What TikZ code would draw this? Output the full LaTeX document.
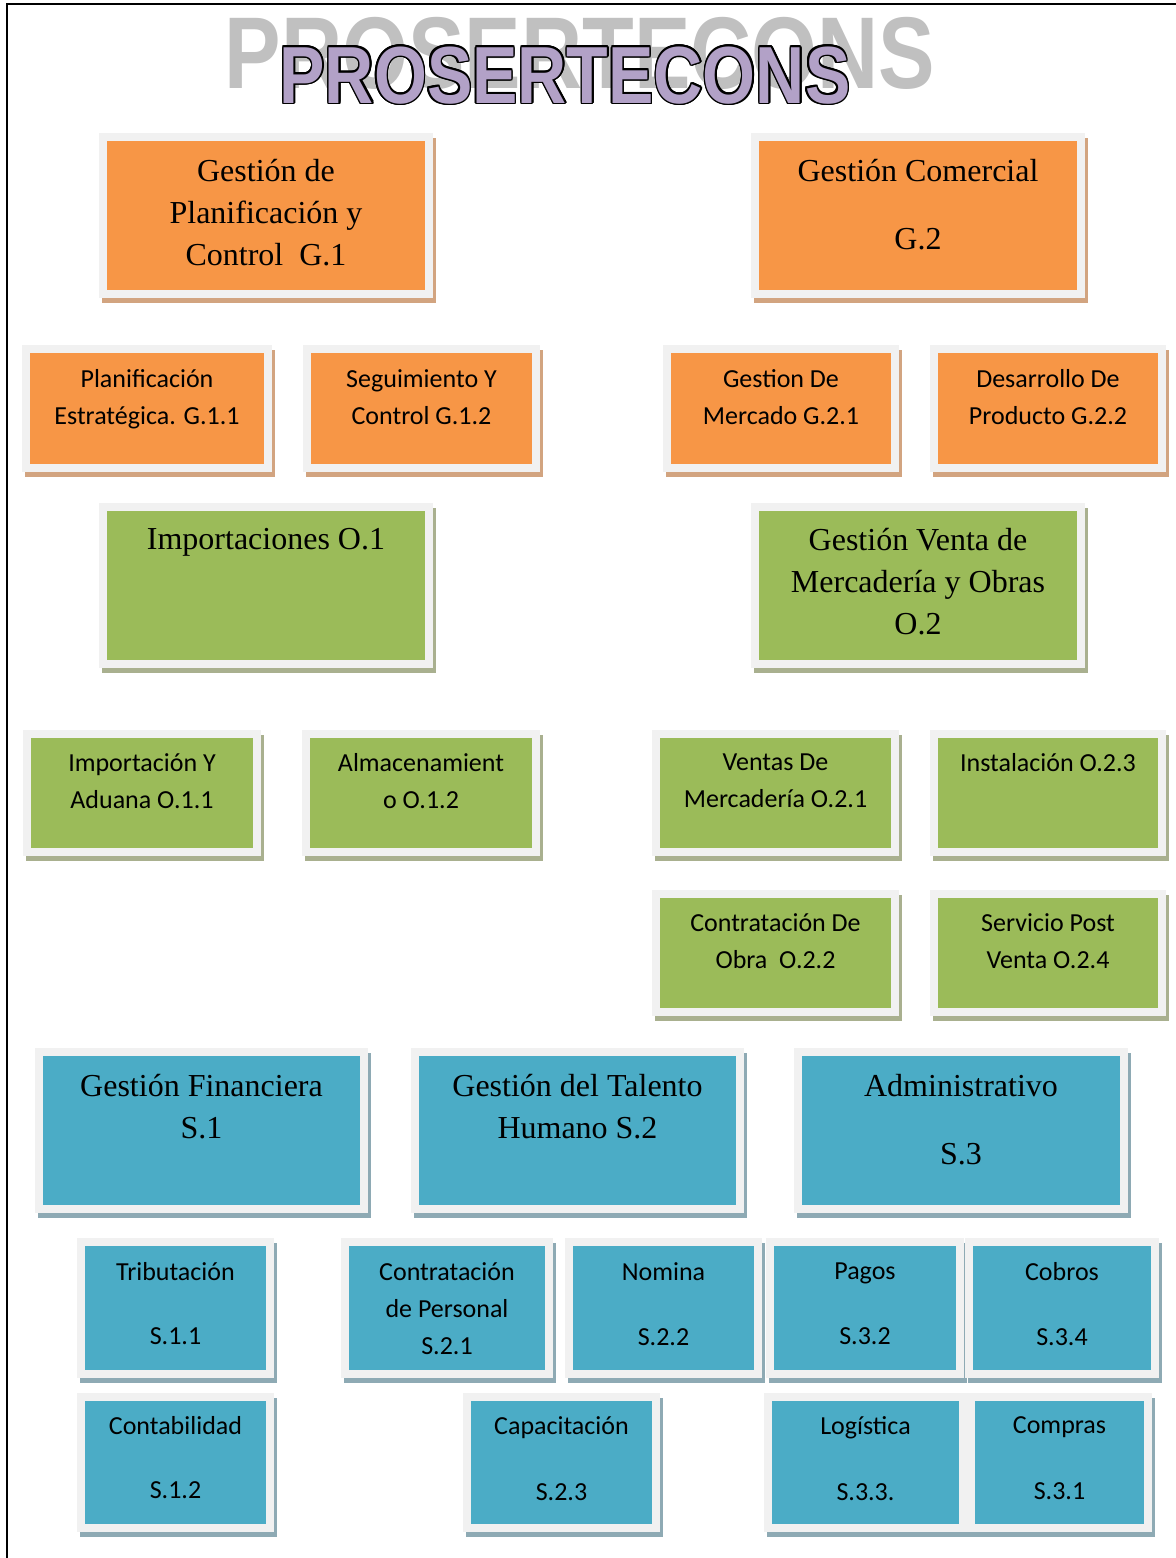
\documentclass[tikz,border=0pt]{standalone}
\usepackage{fontspec}
\setmainfont{Liberation Serif}
\newfontfamily\calibri{Carlito}
\newfontfamily\titlefont{Liberation Sans}
\usepackage[copies]{contour}
\contourlength{0.9pt}
\usetikzlibrary{positioning}
\definecolor{accorange}{HTML}{F79646}
\definecolor{accgreen}{HTML}{9BBB59}
\definecolor{accblue}{HTML}{4BACC6}
\definecolor{framegray}{HTML}{F1F1F1}
\definecolor{shadeorange}{HTML}{D2A480}
\definecolor{shadegreen}{HTML}{A9B08F}
\definecolor{shadeblue}{HTML}{8EAAB4}
\definecolor{titlegray}{HTML}{C0C0C0}
\definecolor{titlepurple}{HTML}{B2A1C7}
\tikzset{
    box/.style={rectangle, draw=framegray, line width=4pt, outer sep=2pt, inner sep=0pt},
    orangebox/.style={box, fill=accorange, preaction={fill=shadeorange, draw=shadeorange, transform canvas={xshift=1.5pt, yshift=-2.5pt}}},
    greenbox/.style={box, fill=accgreen, preaction={fill=shadegreen, draw=shadegreen, transform canvas={xshift=1.5pt, yshift=-2.5pt}}},
    bluebox/.style={box, fill=accblue, preaction={fill=shadeblue, draw=shadeblue, transform canvas={xshift=1.5pt, yshift=-2.5pt}}},
    serif/.style={align=center, inner sep=0pt, font=\fontsize{16}{21}\selectfont},
    sans/.style={align=center, inner sep=0pt, font=\calibri\fontsize{13}{18.5}\selectfont}
}
\begin{document}
\begin{tikzpicture}[x=0.5pt, y=-0.5pt]
    \useasboundingbox (0,0) rectangle (1176,1558);
    \draw[line width=1.2pt] (7,1558) -- (7,4) -- (1176,4);
    % title
    \node[anchor=base, inner sep=0pt, text=titlegray, font=\titlefont\bfseries\fontsize{51}{51}\selectfont] (titleback) at (580,88) {\scalebox{0.83}[1]{PROSERTECONS}};
    \node[anchor=base, inner sep=0pt, font=\titlefont\bfseries\fontsize{40.5}{40.5}\selectfont] (titlefront) at (565,103) {\scalebox{0.84}[1]{\color{titlepurple}\contour{black}{PROSERTECONS}}};
    % gestion
    \node[orangebox, minimum width=163pt, minimum height=78.5pt] (g1) at (266,215.5) {};
    \node[serif, below=13pt of g1.north] (g1text) {Gestión de\\Planificación y\\Control~~G.1};
    \node[orangebox, minimum width=163pt, minimum height=78.5pt] (g2) at (918,215.5) {};
    \node[serif, below=13pt of g2.north] (g2text) {Gestión Comercial\\[13pt]G.2};
    \node[orangebox, minimum width=121pt, minimum height=59.5pt] (g11) at (147,408.5) {};
    \node[sans, below=12pt of g11.north] (g11text) {Planificación\\Estratégica. G.1.1};
    \node[orangebox, minimum width=114.5pt, minimum height=59.5pt] (g12) at (421.5,408.5) {};
    \node[sans, below=12pt of g12.north] (g12text) {Seguimiento Y\\Control G.1.2};
    \node[orangebox, minimum width=114pt, minimum height=59.5pt] (g21) at (781,408.5) {};
    \node[sans, below=12pt of g21.north] (g21text) {Gestion De\\Mercado G.2.1};
    \node[orangebox, minimum width=114pt, minimum height=59.5pt] (g22) at (1048,408.5) {};
    \node[sans, below=12pt of g22.north] (g22text) {Desarrollo De\\Producto G.2.2};
    % operacion
    \node[greenbox, minimum width=163pt, minimum height=78.5pt] (o1) at (266,585.5) {};
    \node[serif, below=12.5pt of o1.north] (o1text) {Importaciones O.1};
    \node[greenbox, minimum width=163pt, minimum height=78.5pt] (o2) at (918,585.5) {};
    \node[serif, below=12.5pt of o2.north] (o2text) {Gestión Venta de\\Mercadería y Obras\\O.2};
    \node[greenbox, minimum width=115pt, minimum height=59pt] (o11) at (142,793) {};
    \node[sans, below=11.5pt of o11.north] (o11text) {Importación Y\\Aduana O.1.1};
    \node[greenbox, minimum width=115pt, minimum height=59pt] (o12) at (421,793) {};
    \node[sans, below=11.5pt of o12.north] (o12text) {Almacenamient\\o O.1.2};
    \node[greenbox, minimum width=119.5pt, minimum height=59pt] (o21) at (775.5,793) {};
    \node[sans, below=11.5pt of o21.north] (o21text) {Ventas De\\Mercadería O.2.1};
    \node[greenbox, minimum width=114pt, minimum height=59pt] (o23) at (1048,793) {};
    \node[sans, below=11.5pt of o23.north] (o23text) {Instalación O.2.3};
    \node[greenbox, minimum width=119.5pt, minimum height=59pt] (o22) at (775.5,953) {};
    \node[sans, below=11.5pt of o22.north] (o22text) {Contratación De\\Obra~~O.2.2};
    \node[greenbox, minimum width=114pt, minimum height=59pt] (o24) at (1048,953) {};
    \node[sans, below=11.5pt of o24.north] (o24text) {Servicio Post\\Venta O.2.4};
    % soporte
    \node[bluebox, minimum width=162.5pt, minimum height=78.5pt] (s1) at (201.5,1130.5) {};
    \node[serif, below=13pt of s1.north] (s1text) {Gestión Financiera\\S.1};
    \node[bluebox, minimum width=162.5pt, minimum height=78.5pt] (s2) at (577.5,1130.5) {};
    \node[serif, below=13pt of s2.north] (s2text) {Gestión del Talento\\Humano S.2};
    \node[bluebox, minimum width=163pt, minimum height=78.5pt] (s3) at (961,1130.5) {};
    \node[serif, below=13pt of s3.north] (s3text) {Administrativo\\[13pt]S.3};
    \node[bluebox, minimum width=94.5pt, minimum height=66pt] (s11) at (175.5,1308) {};
    \node[sans, below=12pt of s11.north] (s11text) {Tributación\\[13.5pt]S.1.1};
    \node[bluebox, minimum width=102pt, minimum height=66pt] (s21) at (447,1308) {};
    \node[sans, below=12pt of s21.north] (s21text) {Contratación\\de Personal\\S.2.1};
    \node[bluebox, minimum width=94.5pt, minimum height=66pt] (s22) at (663.5,1308) {};
    \node[sans, below=12pt of s22.north] (s22text) {Nomina\\[14pt]S.2.2};
    \node[bluebox, minimum width=95pt, minimum height=66pt] (s32) at (865,1308) {};
    \node[sans, below=12pt of s32.north] (s32text) {Pagos\\[14pt]S.3.2};
    \node[bluebox, minimum width=93pt, minimum height=66pt] (s34) at (1062,1308) {};
    \node[sans, below=12pt of s34.north] (s34text) {Cobros\\[14pt]S.3.4};
    \node[bluebox, minimum width=94.5pt, minimum height=65.5pt] (s12) at (175.5,1462.5) {};
    \node[sans, below=11.5pt of s12.north] (s12text) {Contabilidad\\[13.5pt]S.1.2};
    \node[bluebox, minimum width=94.5pt, minimum height=65.5pt] (s23) at (561.5,1462.5) {};
    \node[sans, below=11.5pt of s23.north] (s23text) {Capacitación\\[14.5pt]S.2.3};
    \node[bluebox, minimum width=97.5pt, minimum height=65.5pt] (s33) at (865.5,1462.5) {};
    \node[sans, below=11.5pt of s33.north] (s33text) {Logística\\[14.5pt]S.3.3.};
    \node[bluebox, minimum width=88.5pt, minimum height=65.5pt] (s31) at (1059.5,1462.5) {};
    \node[sans, below=11.5pt of s31.north] (s31text) {Compras\\[14.5pt]S.3.1};
\end{tikzpicture}
\end{document}
